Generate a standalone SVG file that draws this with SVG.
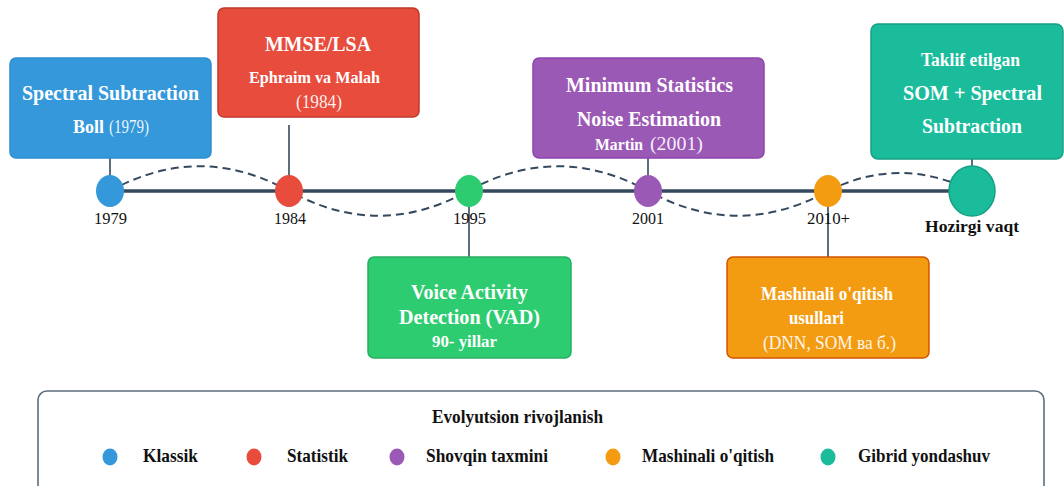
<svg xmlns="http://www.w3.org/2000/svg" width="1064" height="486" viewBox="0 0 1064 486">
<style>
text{font-family:"Liberation Serif","Times New Roman",serif}
.bt{fill:#ffffff;font-weight:bold;text-anchor:middle}
.bn{fill:#ffffff;fill-opacity:0.92;font-weight:normal;text-anchor:middle}
.yr{fill:#111111;font-size:17px;text-anchor:middle}
.lg{fill:#111111;font-weight:bold;font-size:19px}
.conn{stroke:#34495e;stroke-width:1.6;fill:none}
.box{stroke-width:1.5}
</style>
<rect width="1064" height="486" fill="#ffffff"/>
<g id="connectors">
<line x1="110" y1="191" x2="972" y2="191" stroke="#34495e" stroke-width="3.5"/>
<path d="M110,191 C170,158 229,158 289,191 C349,224 408,224 468,191 C528,158 588,158 648,191 C708,224 768,224 828,191 C876,167 924,167 972,191" fill="none" stroke="#34495e" stroke-width="2" stroke-dasharray="8,5"/>
<line class="conn" x1="110" y1="158" x2="110" y2="176"/>
<line class="conn" x1="289" y1="125" x2="289" y2="176"/>
<line class="conn" x1="648" y1="158" x2="648" y2="176"/>
<line class="conn" x1="469" y1="206" x2="469" y2="257"/>
<line class="conn" x1="828" y1="206" x2="828" y2="257"/>
<line class="conn" x1="972" y1="159" x2="972" y2="166"/>
</g>
<g id="dot-1979"><ellipse cx="110" cy="191" rx="14" ry="16" fill="#3498db"/><text class="yr" x="110.5" y="224" textLength="33" lengthAdjust="spacingAndGlyphs">1979</text></g>
<g id="dot-1984"><ellipse cx="289" cy="191" rx="14" ry="16" fill="#e74c3c"/><text class="yr" x="290" y="224" textLength="32" lengthAdjust="spacingAndGlyphs">1984</text></g>
<g id="dot-1995"><ellipse cx="469" cy="191" rx="14" ry="16" fill="#2ecc71"/><text class="yr" x="469.5" y="224" textLength="33" lengthAdjust="spacingAndGlyphs">1995</text></g>
<g id="dot-2001"><ellipse cx="648" cy="191" rx="14" ry="16" fill="#9b59b6"/><text class="yr" x="648" y="224" textLength="32" lengthAdjust="spacingAndGlyphs">2001</text></g>
<g id="dot-2010"><ellipse cx="828" cy="191" rx="14" ry="16" fill="#f39c12"/><text class="yr" x="828.5" y="224" textLength="43" lengthAdjust="spacingAndGlyphs">2010+</text></g>
<g id="dot-now"><ellipse cx="972" cy="191" rx="23" ry="25" fill="#1abc9c" stroke="#16a085" stroke-width="1.5"/><text class="yr" x="972" y="232" font-weight="bold" textLength="94" lengthAdjust="spacingAndGlyphs">Hozirgi vaqt</text></g>
<g id="node-spectral">
<rect class="box" x="10" y="58" width="201" height="100" rx="6" fill="#3498db" stroke="#2e8fd0"/>
<text class="bt" x="110.5" y="100" font-size="22" textLength="177" lengthAdjust="spacingAndGlyphs">Spectral Subtraction</text>
<text class="bt" x="73" y="133" font-size="19" style="text-anchor:start" textLength="31" lengthAdjust="spacingAndGlyphs">Boll</text>
<text class="bn" x="109" y="133" font-size="18" style="text-anchor:start" textLength="40" lengthAdjust="spacingAndGlyphs">(1979)</text>
</g>
<g id="node-mmse">
<rect class="box" x="218" y="8" width="201" height="109" rx="6" fill="#e74c3c" stroke="#c0392b"/>
<text class="bt" x="318" y="51" font-size="22" textLength="106" lengthAdjust="spacingAndGlyphs">MMSE/LSA</text>
<text class="bt" x="314.5" y="83" font-size="17" textLength="131" lengthAdjust="spacingAndGlyphs">Ephraim va Malah</text>
<text class="bn" x="319" y="108" font-size="18" textLength="46" lengthAdjust="spacingAndGlyphs">(1984)</text>
</g>
<g id="node-minstat">
<rect class="box" x="533" y="58" width="231" height="100" rx="6" fill="#9b59b6" stroke="#8e44ad"/>
<text class="bt" x="649.5" y="92" font-size="21" textLength="167" lengthAdjust="spacingAndGlyphs">Minimum Statistics</text>
<text class="bt" x="649" y="126" font-size="21" textLength="144" lengthAdjust="spacingAndGlyphs">Noise Estimation</text>
<text class="bt" x="595" y="150" font-size="17" style="text-anchor:start" textLength="48" lengthAdjust="spacingAndGlyphs">Martin</text>
<text class="bn" x="650" y="150" font-size="18" style="text-anchor:start" textLength="53" lengthAdjust="spacingAndGlyphs">(2001)</text>
</g>
<g id="node-vad">
<rect class="box" x="368" y="257" width="203" height="101" rx="6" fill="#2ecc71" stroke="#27ae60"/>
<text class="bt" x="469.5" y="299" font-size="21" textLength="117" lengthAdjust="spacingAndGlyphs">Voice Activity</text>
<text class="bt" x="469.5" y="324" font-size="21" textLength="141" lengthAdjust="spacingAndGlyphs">Detection (VAD)</text>
<text class="bt" x="464.5" y="347" font-size="17" textLength="65" lengthAdjust="spacingAndGlyphs">90- yillar</text>
</g>
<g id="node-ml">
<rect class="box" x="727" y="257" width="202" height="101" rx="6" fill="#f39c12" stroke="#d35400"/>
<text class="bt" x="827" y="300" font-size="19" textLength="132" lengthAdjust="spacingAndGlyphs">Mashinali o'qitish</text>
<text class="bt" x="816.5" y="324" font-size="19" textLength="55" lengthAdjust="spacingAndGlyphs">usullari</text>
<text class="bn" x="829.5" y="349" font-size="19" textLength="133" lengthAdjust="spacingAndGlyphs">(DNN, SOM ва б.)</text>
</g>
<g id="node-proposed">
<rect class="box" x="871" y="24" width="192" height="135" rx="7" fill="#1abc9c" stroke="#16a085"/>
<text class="bt" x="970.5" y="66" font-size="18" textLength="99" lengthAdjust="spacingAndGlyphs">Taklif etilgan</text>
<text class="bt" x="972.5" y="100" font-size="21" textLength="139" lengthAdjust="spacingAndGlyphs">SOM + Spectral</text>
<text class="bt" x="972" y="133" font-size="21" textLength="100" lengthAdjust="spacingAndGlyphs">Subtraction</text>
</g>
<g id="legend">
<rect x="38" y="391" width="1006" height="120" rx="9" fill="#ffffff" stroke="#5d6d7e" stroke-width="1.6"/>
<text x="517.5" y="423" font-size="18" font-weight="bold" fill="#111111" text-anchor="middle" textLength="171" lengthAdjust="spacingAndGlyphs">Evolyutsion rivojlanish</text>
<ellipse cx="110" cy="457" rx="7.5" ry="8.5" fill="#3498db"/>
<text class="lg" x="143" y="462" textLength="55" lengthAdjust="spacingAndGlyphs">Klassik</text>
<ellipse cx="254" cy="457" rx="7.5" ry="8.5" fill="#e74c3c"/>
<text class="lg" x="287" y="462" textLength="61" lengthAdjust="spacingAndGlyphs">Statistik</text>
<ellipse cx="397" cy="457" rx="7.5" ry="8.5" fill="#9b59b6"/>
<text class="lg" x="426" y="462" textLength="122" lengthAdjust="spacingAndGlyphs">Shovqin taxmini</text>
<ellipse cx="613" cy="457" rx="7.5" ry="8.5" fill="#f39c12"/>
<text class="lg" x="642" y="462" textLength="132" lengthAdjust="spacingAndGlyphs">Mashinali o'qitish</text>
<ellipse cx="828" cy="457" rx="7.5" ry="8.5" fill="#1abc9c"/>
<text class="lg" x="858" y="462" textLength="132" lengthAdjust="spacingAndGlyphs">Gibrid yondashuv</text>
</g>
</svg>
